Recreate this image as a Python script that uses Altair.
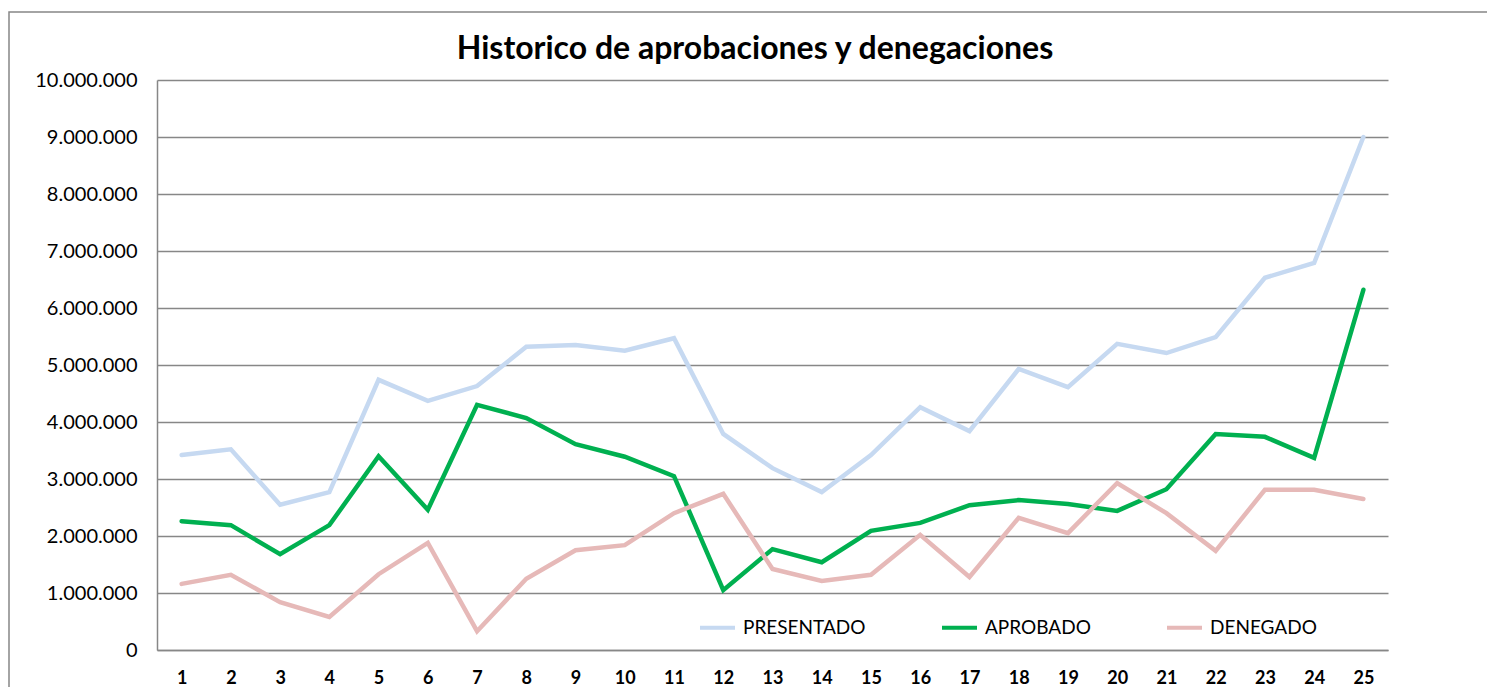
import altair as alt
import pandas as pd

periods = list(range(1, 26))
presentado = [3.42, 3.52, 2.55, 2.77, 4.74, 4.37, 4.63, 5.32, 5.35, 5.25, 5.47, 3.79, 3.19,
              2.77, 3.42, 4.26, 3.84, 4.93, 4.61, 5.37, 5.21, 5.49, 6.53, 6.79, 9.00]
aprobado = [2.26, 2.19, 1.68, 2.19, 3.40, 2.46, 4.30, 4.07, 3.61, 3.39, 3.05, 1.05, 1.77,
            1.54, 2.09, 2.23, 2.54, 2.63, 2.56, 2.44, 2.82, 3.79, 3.74, 3.37, 6.32]
denegado = [1.16, 1.32, 0.84, 0.58, 1.33, 1.88, 0.33, 1.25, 1.75, 1.84, 2.40, 2.74, 1.42,
            1.21, 1.32, 2.02, 1.28, 2.32, 2.05, 2.93, 2.40, 1.74, 2.81, 2.81, 2.65]
series_names = ["PRESENTADO", "APROBADO", "DENEGADO"]
series_colors = ["#C6D9F1", "#00B050", "#E6B9B8"]
title_text = "Historico de aprobaciones y denegaciones"

rows = []
for name, vals in zip(series_names, [presentado, aprobado, denegado]):
    for p, v in zip(periods, vals):
        rows.append({"periodo": p, "serie": name, "valor": round(v * 1_000_000)})
df = pd.DataFrame(rows)

FONT = "Lato"

lines = alt.Chart(df).mark_line(strokeWidth=4.5, strokeCap="round", strokeJoin="miter").encode(
    x=alt.X("periodo:O", sort=periods,
            scale=alt.Scale(type="point", padding=0.5),
            axis=alt.Axis(title=None, labelAngle=0, ticks=False, grid=False,
                          labelFont=FONT, labelFontSize=18, labelFontWeight="bold",
                          labelColor="#000000", labelPadding=19, labelOverlap=False,
                          domainColor="#878787", domainWidth=1.5)),
    y=alt.Y("valor:Q",
            scale=alt.Scale(domain=[0, 10_000_000], nice=False),
            axis=alt.Axis(title=None, values=list(range(0, 10_000_001, 1_000_000)),
                          ticks=False, labelFont=FONT, labelFontSize=20, labelColor="#000000",
                          labelPadding=20, labelOverlap=False,
                          labelExpr="replace(format(datum.value, ',d'), /,/g, '.')",
                          gridColor="#878787", gridWidth=1.5,
                          domainColor="#878787", domainWidth=1.5)),
    color=alt.Color("serie:N",
                    scale=alt.Scale(domain=series_names, range=series_colors),
                    sort=series_names,
                    legend=alt.Legend(title=None, orient="none", direction="horizontal",
                                      legendX=541, legendY=528,
                                      symbolType="stroke", symbolSize=1225,
                                      symbolStrokeWidth=4, columnPadding=68,
                                      labelFont=FONT, labelFontSize=19,
                                      labelColor="#000000", labelOffset=6)),
    order=alt.Order("serie:N"),
)

border_df = pd.DataFrame({"k": [0]})
border = alt.Chart(border_df).mark_rect(fill=None, stroke="#878787", strokeWidth=1.5, clip=False).encode(
    x=alt.value(-148), x2=alt.value(1345), y=alt.value(-68), y2=alt.value(700)
)

title_df = pd.DataFrame({"t": [title_text]})
title = alt.Chart(title_df).mark_text(font=FONT, fontSize=32, fontWeight="bold", color="#000000",
                                      align="center", baseline="alphabetic").encode(
    text="t:N", x=alt.value(598), y=alt.value(-21)
)

chart = alt.layer(border, lines, title).properties(
    width=1231, height=570,
    autosize=alt.AutoSizeParams(type="none"),
    padding={"left": 149, "top": 72, "right": 99, "bottom": 37},
).configure(background="white").configure_view(stroke=None)

chart.save("out.html", embed_options={"renderer": "svg", "actions": False})
